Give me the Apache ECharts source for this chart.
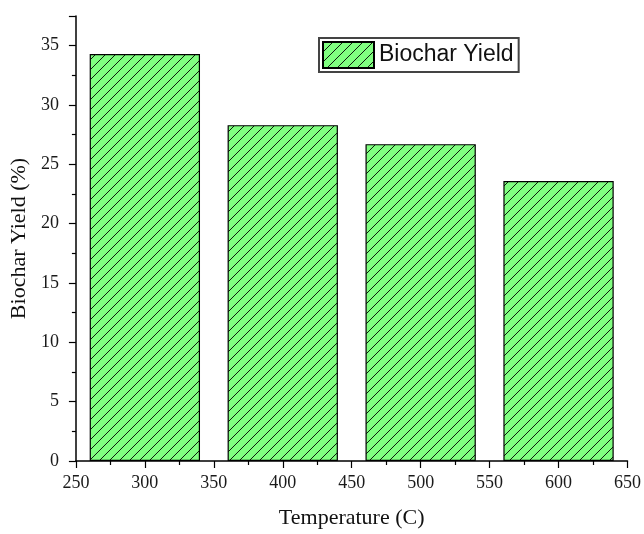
<!DOCTYPE html>
<html>
<head>
    <meta charset="utf-8">
    <title>Biochar Yield</title>
    <script src="https://cdn.jsdelivr.net/npm/echarts@6/dist/echarts.min.js"></script>
    <style>
        body, html { margin: 0; padding: 0; background: #fff; }
        #main { width: 644px; height: 534px; }
    </style>
</head>
<body>
    <div id="main"></div>
    <script>
        // data
        var temperatures = [300, 400, 500, 600];
        var yields = [34.3, 28.3, 26.7, 23.6];

        // hatch pattern: light green with black "/" lines
        function makeHatch() {
            var c = document.createElement('canvas');
            c.width = 10; c.height = 10;
            var ctx = c.getContext('2d');
            ctx.fillStyle = '#80ff80';
            ctx.fillRect(0, 0, 10, 10);
            ctx.strokeStyle = '#000';
            ctx.lineWidth = 0.9;
            ctx.beginPath();
            ctx.moveTo(-1, 11); ctx.lineTo(11, -1);
            ctx.moveTo(-6, 6); ctx.lineTo(6, -6);
            ctx.moveTo(4, 16); ctx.lineTo(16, 4);
            ctx.stroke();
            return c;
        }

        var myChart = echarts.init(document.getElementById('main'));
        var serif = '"Liberation Serif", "DejaVu Serif", serif';

        var option = {
            backgroundColor: '#fff',
            animation: false,
            grid: { left: 75, right: 14, top: 16, bottom: 70, containLabel: false },
            legend: {
                left: 319, top: 38,
                padding: [3, 5, 3, 3],
                borderColor: '#444', borderWidth: 2,
                itemWidth: 51, itemHeight: 26,
                icon: 'rect',
                textStyle: { fontFamily: '"Liberation Sans", Arial, sans-serif', fontSize: 23, color: '#111' },
                data: ['Biochar Yield']
            },
            xAxis: {
                type: 'value',
                min: 250, max: 650, interval: 50,
                name: 'Temperature (C)',
                nameLocation: 'middle', nameGap: 46,
                nameTextStyle: { fontFamily: serif, fontSize: 22, color: '#111' },
                axisLine: { onZero: false, lineStyle: { color: '#000', width: 1.5 } },
                axisTick: { inside: false, length: 7, lineStyle: { color: '#000', width: 1.2 } },
                minorTick: { show: true, splitNumber: 2, length: 4, lineStyle: { color: '#000', width: 1.2 } },
                axisLabel: { fontFamily: serif, fontSize: 18, color: '#1a1a1a', margin: 13 },
                splitLine: { show: false }
            },
            yAxis: {
                type: 'value',
                min: 0, max: 37.5, interval: 5,
                name: 'Biochar Yield (%)',
                nameLocation: 'middle', nameGap: 42,
                nameTextStyle: { fontFamily: serif, fontSize: 22, color: '#111' },
                axisLine: { show: true, lineStyle: { color: '#000', width: 1.5 } },
                axisTick: { show: true, length: 7, lineStyle: { color: '#000', width: 1.2 } },
                minorTick: { show: true, splitNumber: 2, length: 4, lineStyle: { color: '#000', width: 1.2 } },
                axisLabel: { fontFamily: serif, fontSize: 18, color: '#1a1a1a', margin: 17, showMaxLabel: false },
                splitLine: { show: false }
            },
            series: [{
                name: 'Biochar Yield',
                type: 'bar',
                barWidth: '80%',
                data: temperatures.map(function (t, i) { return [t, yields[i]]; }),
                itemStyle: {
                    color: { image: makeHatch(), repeat: 'repeat' },
                    borderColor: '#000',
                    borderWidth: 1.2
                }
            }]
        };

        myChart.setOption(option);
        window.addEventListener('resize', function () { myChart.resize(); });
    </script>
</body>
</html>
